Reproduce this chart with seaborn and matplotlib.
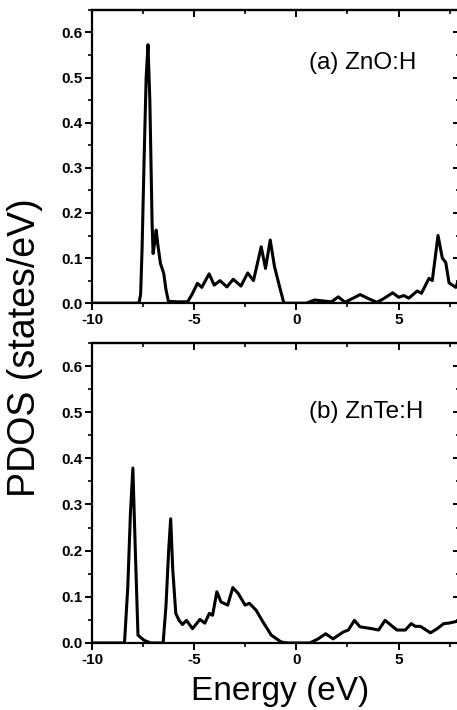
import matplotlib
matplotlib.use("Agg")
import matplotlib.pyplot as plt
from matplotlib.ticker import MultipleLocator
import pandas as pd
import seaborn as sns

# ZnO:H partial DOS (energy in eV, states/eV)
zno_energy = [-10.0, -7.70, -7.62, -7.55, -7.45, -7.35, -7.26, -7.17, -7.06, -7.01,
              -6.92, -6.86, -6.78, -6.65, -6.49, -6.38, -6.26, -5.80, -5.32, -5.10,
              -4.84, -4.63, -4.27, -4.02, -3.74, -3.40, -3.09, -2.71, -2.38, -2.10,
              -1.72, -1.51, -1.28, -1.07, -0.82, -0.61, 0.49, 0.89, 1.30, 1.72,
              2.05, 2.38, 3.12, 3.53, 3.94, 4.27, 4.71, 5.01, 5.26, 5.50,
              5.91, 6.12, 6.49, 6.65, 6.93, 7.14, 7.31, 7.47, 7.80, 8.0]
zno_pdos = [0.0, 0.0, 0.02, 0.12, 0.32, 0.50, 0.573, 0.45, 0.18, 0.11,
            0.14, 0.162, 0.13, 0.088, 0.066, 0.03, 0.004, 0.003, 0.003, 0.02,
            0.044, 0.035, 0.065, 0.040, 0.050, 0.036, 0.053, 0.038, 0.067, 0.050,
            0.125, 0.077, 0.140, 0.081, 0.036, 0.0, 0.0, 0.007, 0.005, 0.003,
            0.014, 0.002, 0.019, 0.010, 0.002, 0.010, 0.023, 0.013, 0.017, 0.011,
            0.027, 0.022, 0.055, 0.050, 0.150, 0.100, 0.090, 0.045, 0.035, 0.06]

# ZnTe:H partial DOS
znte_energy = [-10.0, -8.41, -8.25, -8.12, -8.0, -7.88, -7.75, -7.46, -7.13, -6.52,
               -6.38, -6.25, -6.15, -6.05, -5.90, -5.74, -5.57, -5.38, -5.08, -4.72,
               -4.48, -4.26, -4.10, -3.89, -3.69, -3.36, -3.11, -2.84, -2.51, -2.30,
               -1.97, -1.64, -1.23, -0.74, -0.40, 0.66, 1.07, 1.43, 1.80, 2.30,
               2.54, 2.84, 3.11, 3.69, 4.02, 4.34, 4.92, 5.33, 5.62, 5.82,
               6.07, 6.56, 6.89, 7.21, 7.46, 7.97]
znte_pdos = [0.0, 0.0, 0.12, 0.28, 0.379, 0.20, 0.017, 0.006, 0.0, 0.0,
             0.08, 0.20, 0.269, 0.16, 0.064, 0.049, 0.040, 0.049, 0.031, 0.051,
             0.043, 0.064, 0.060, 0.111, 0.089, 0.082, 0.120, 0.107, 0.082, 0.086,
             0.071, 0.046, 0.017, 0.002, 0.0, 0.0, 0.009, 0.020, 0.009, 0.024,
             0.028, 0.049, 0.035, 0.031, 0.028, 0.049, 0.028, 0.028, 0.042, 0.036,
             0.036, 0.022, 0.031, 0.042, 0.043, 0.048]

labels = ["(a) ZnO:H", "(b) ZnTe:H"]
x_ticks = [-10, -5, 0, 5]

sns.set_theme(style="ticks")
plt.rcParams["font.family"] = ["Liberation Sans", "DejaVu Sans"]
plt.rcParams["axes.unicode_minus"] = False
plt.rcParams["text.color"] = "black"

fig = plt.figure(figsize=(4.57, 7.10), dpi=100)
ax_top = fig.add_axes([0.2013, 0.573, 0.805, 0.413])
ax_bot = fig.add_axes([0.2013, 0.0944, 0.805, 0.4226])

panels = [
    (ax_top, pd.DataFrame({"E": zno_energy, "pdos": zno_pdos}), labels[0], 0.532),
    (ax_bot, pd.DataFrame({"E": znte_energy, "pdos": znte_pdos}), labels[1], 0.50),
]

for ax, df, label, ty in panels:
    sns.lineplot(data=df, x="E", y="pdos", ax=ax, color="black", linewidth=2.2)
    ax.set_xlim(-10, 8)
    ax.set_ylim(0, 0.65)
    ax.set_xticks(x_ticks)
    ax.set_xticklabels([str(v) for v in x_ticks])
    ax.xaxis.set_minor_locator(MultipleLocator(2.5))
    ax.yaxis.set_minor_locator(MultipleLocator(0.05))
    ax.set_yticks([0.0, 0.1, 0.2, 0.3, 0.4, 0.5, 0.6])
    ax.set_yticklabels(["0.0", "0.1", "0.2", "0.3", "0.4", "0.5", "0.6"])
    ax.set_xlabel("")
    ax.set_ylabel("")
    ax.tick_params(which="both", left=True, bottom=True, top=False, right=False)
    ax.tick_params(which="major", direction="out", length=5, width=1.4, colors="black",
                   labelsize=11, pad=2)
    ax.tick_params(which="minor", direction="out", length=3, width=1.2, colors="black")
    for t in ax.get_xticklabels() + ax.get_yticklabels():
        t.set_fontweight("bold")
    for side in ["left", "bottom", "top", "right"]:
        ax.spines[side].set_visible(True)
        ax.spines[side].set_color("black")
        ax.spines[side].set_linewidth(1.6)
    # inward ticks on top and right
    sx = ax.secondary_xaxis("top")
    sx.set_xticks(x_ticks)
    sx.xaxis.set_minor_locator(MultipleLocator(2.5))
    sx.tick_params(which="major", direction="in", length=5, width=1.4, labeltop=False,
                   colors="black")
    sx.tick_params(which="minor", direction="in", length=3, width=1.2, colors="black")
    sx.spines["top"].set_linewidth(1.6)
    sy = ax.secondary_yaxis("right")
    sy.yaxis.set_major_locator(MultipleLocator(0.1))
    sy.yaxis.set_minor_locator(MultipleLocator(0.05))
    sy.tick_params(which="major", direction="in", length=5, width=1.4, labelright=False,
                   colors="black")
    sy.tick_params(which="minor", direction="in", length=3, width=1.2, colors="black")
    ax.text(0.64, ty, label, fontsize=17.5, va="center", ha="left", color="black")

fig.text(0.054, 0.51, "PDOS (states/eV)", rotation=90, fontsize=27, ha="center",
         va="center", color="black")
fig.text(0.613, 0.026, "Energy (eV)", fontsize=24, ha="center", va="center",
         color="black")

fig.savefig("out.png", dpi=100)
